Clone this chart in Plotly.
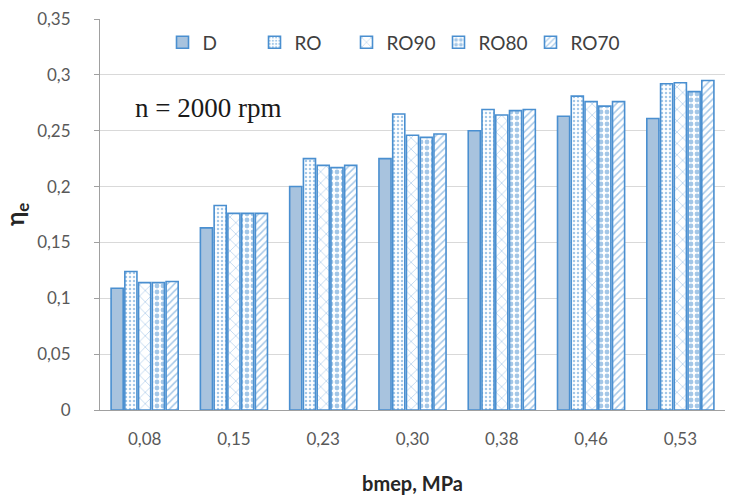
import plotly.graph_objects as go

categories = ["0,08", "0,15", "0,23", "0,30", "0,38", "0,46", "0,53"]
series_names = ["D", "RO", "RO90", "RO80", "RO70"]
D = [0.109, 0.163, 0.200, 0.225, 0.250, 0.263, 0.261]
RO = [0.124, 0.183, 0.225, 0.265, 0.269, 0.281, 0.292]
RO90 = [0.114, 0.176, 0.219, 0.246, 0.264, 0.276, 0.293]
RO80 = [0.114, 0.176, 0.217, 0.244, 0.268, 0.272, 0.285]
RO70 = [0.115, 0.176, 0.219, 0.247, 0.269, 0.276, 0.295]
values = [D, RO, RO90, RO80, RO70]

edge = "#4a8fd0"
fills = ["#a8c3de", "white", "white", "white", "white"]
shapes = ["", ".", "x", ".", "/"]
sizes = [8, 4, 8, 6, 5]
solid = [0.3, 0.3, 0.15, 0.5, 0.3]

fig = go.Figure()
for name, vals, fc, sh, sz, so in zip(series_names, values, fills, shapes, sizes, solid):
    fig.add_trace(go.Bar(
        x=categories, y=vals, name=name,
        marker=dict(color=fc, line=dict(color=edge, width=1.6),
                    pattern=dict(shape=sh, fgcolor=edge, bgcolor="white" if sh else fc,
                                 size=sz, solidity=so)),
    ))

fig.update_layout(
    width=731, height=497,
    margin=dict(l=100, r=6, t=19, b=87),
    paper_bgcolor="white", plot_bgcolor="white",
    separators=",.",
    barmode="group", bargap=0.23, bargroupgap=0.12,
    font=dict(family="Lato", color="#595959", size=17),
    legend=dict(orientation="h", x=0.1, xanchor="left", y=0.94, yanchor="middle",
                font=dict(size=19, color="#404040"), bgcolor="rgba(255,255,255,0)",
                itemwidth=30, entrywidth=47, traceorder="normal"),
    xaxis=dict(showline=True, linecolor="#a0a0a0", linewidth=1, ticks="",
               ticklabelstandoff=14,
               tickfont=dict(size=17, color="#595959"),
               title=dict(text="<b>bmep, MPa</b>", font=dict(size=20, color="#262626"), standoff=28)),
    yaxis=dict(range=[0, 0.35], dtick=0.05, showline=True, linecolor="#a0a0a0", linewidth=1,
               ticks="outside", ticklen=5, tickcolor="#a0a0a0",
               ticklabelstandoff=20,
               gridcolor="#d9d9d9", gridwidth=1,
               tickfont=dict(size=17, color="#595959"),
               title=dict(text="<b>η<sub>e</sub></b>", font=dict(size=24, color="#262626"), standoff=6)),
    annotations=[dict(text="n = 2000 rpm", x=0.173, xref="paper", xanchor="center",
                      y=0.772, yref="paper", yanchor="middle",
                      showarrow=False, font=dict(family="Liberation Serif", size=27, color="#1a1a1a"),
                      bgcolor="white")],
)

fig.write_html("out.html")
